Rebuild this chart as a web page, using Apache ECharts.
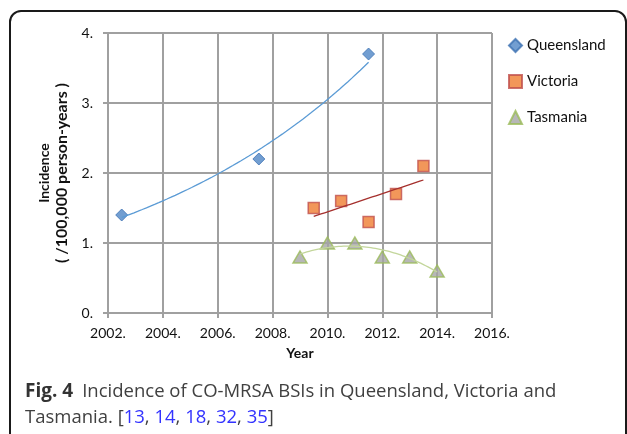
<!DOCTYPE html>
<html>
<head>
    <meta charset="utf-8">
    <title>Incidence of CO-MRSA BSIs</title>
    <script src="https://cdn.jsdelivr.net/npm/echarts@6.0.0/dist/echarts.min.js"></script>
    <style>
        html, body { margin: 0; padding: 0; background: #fff; }
        #main { width: 627px; height: 434px; }
    </style>
</head>
<body>
    <div id="main"></div>
    <script>
        // data
        const qldYears = [2002.5, 2007.5, 2011.5];
        const qldRate = [1.4, 2.2, 3.7];
        const vicYears = [2009.5, 2010.5, 2011.5, 2012.5, 2013.5];
        const vicRate = [1.5, 1.6, 1.3, 1.7, 2.1];
        const tasYears = [2009, 2010, 2011, 2012, 2013, 2014];
        const tasRate = [0.8, 1.0, 1.0, 0.8, 0.8, 0.6];

        const xTicks = [2002, 2004, 2006, 2008, 2010, 2012, 2014, 2016];
        const yTicks = [0, 1, 2, 3, 4];

        const FONT = 'Lato';

        // least squares fits, like the Excel trendlines
        function linFit(xs, ys) {
            const n = xs.length;
            const mx = xs.reduce((a, b) => a + b, 0) / n;
            const my = ys.reduce((a, b) => a + b, 0) / n;
            let sxy = 0, sxx = 0;
            for (let i = 0; i < n; i++) {
                sxy += (xs[i] - mx) * (ys[i] - my);
                sxx += (xs[i] - mx) * (xs[i] - mx);
            }
            const b = sxy / sxx;
            return x => my + b * (x - mx);
        }
        function expFit(xs, ys) {
            const f = linFit(xs, ys.map(Math.log));
            return x => Math.exp(f(x));
        }
        function quadFit(xs, ys) {
            const x0 = xs[0];
            const t = xs.map(x => x - x0);
            const s = k => t.reduce((a, v) => a + Math.pow(v, k), 0);
            const sy = k => t.reduce((a, v, i) => a + Math.pow(v, k) * ys[i], 0);
            const A = [[s(0), s(1), s(2)], [s(1), s(2), s(3)], [s(2), s(3), s(4)]];
            const B = [sy(0), sy(1), sy(2)];
            // gaussian elimination
            for (let i = 0; i < 3; i++) {
                for (let j = i + 1; j < 3; j++) {
                    const f = A[j][i] / A[i][i];
                    for (let k = i; k < 3; k++) A[j][k] -= f * A[i][k];
                    B[j] -= f * B[i];
                }
            }
            const c = [0, 0, 0];
            for (let i = 2; i >= 0; i--) {
                let v = B[i];
                for (let k = i + 1; k < 3; k++) v -= A[i][k] * c[k];
                c[i] = v / A[i][i];
            }
            return x => c[0] + c[1] * (x - x0) + c[2] * (x - x0) * (x - x0);
        }
        function sampleFit(fn, xs) {
            const a = Math.min(...xs), b = Math.max(...xs);
            const pts = [];
            for (let i = 0; i <= 60; i++) {
                const x = a + (b - a) * i / 60;
                pts.push([x, fn(x)]);
            }
            return pts;
        }

        const zip = (xs, ys) => xs.map((x, i) => [x, ys[i]]);

        const chart = echarts.init(document.getElementById('main'));

        const gridColor = '#a0a0a0';

        const option = {
            animation: false,
            textStyle: { fontFamily: FONT },
            grid: { left: 108, top: 33, width: 384, height: 280 },
            legend: {
                orient: 'vertical',
                left: 503,
                top: 33,
                itemWidth: 13,
                itemHeight: 13,
                itemGap: 21,
                data: ['Queensland', 'Victoria', 'Tasmania'],
                textStyle: { fontFamily: FONT, fontSize: 15, color: '#111' }
            },
            xAxis: {
                type: 'value',
                min: xTicks[0],
                max: xTicks[xTicks.length - 1],
                interval: 2,
                name: 'Year',
                nameLocation: 'middle',
                nameGap: 33,
                nameTextStyle: { fontFamily: FONT, fontWeight: 'bold', fontSize: 14, color: '#111' },
                axisLine: { show: true, lineStyle: { color: gridColor, width: 2 } },
                axisTick: { show: true, length: 5, lineStyle: { color: gridColor, width: 2 } },
                axisLabel: {
                    margin: 13,
                    fontFamily: FONT,
                    fontSize: 14,
                    color: '#111',
                    formatter: v => v + '.'
                },
                splitLine: { show: true, lineStyle: { color: gridColor, width: 2 } }
            },
            yAxis: {
                type: 'value',
                min: yTicks[0],
                max: yTicks[yTicks.length - 1],
                interval: 1,
                name: '{a|Incidence}\n{b|( /100,000 person-years )}',
                nameLocation: 'middle',
                nameRotate: 90,
                nameGap: 37,
                nameTextStyle: {
                    color: '#111',
                    rich: {
                        a: { fontFamily: FONT, fontWeight: 'bold', fontSize: 14, lineHeight: 18, color: '#111' },
                        b: { fontFamily: FONT, fontWeight: 'bold', fontSize: 16, lineHeight: 18, color: '#111' }
                    }
                },
                axisLine: { show: true, lineStyle: { color: gridColor, width: 2 } },
                axisTick: { show: true, length: 5, lineStyle: { color: gridColor, width: 2 } },
                axisLabel: {
                    margin: 15,
                    fontFamily: FONT,
                    fontSize: 14,
                    color: '#111',
                    formatter: v => v + '.'
                },
                splitLine: { show: true, lineStyle: { color: gridColor, width: 2 } }
            },
            series: [
                {
                    name: 'Queensland trend',
                    type: 'line',
                    data: sampleFit(expFit(qldYears, qldRate), qldYears),
                    showSymbol: false,
                    lineStyle: { color: '#5b9bd5', width: 1.3 },
                    silent: true
                },
                {
                    name: 'Victoria trend',
                    type: 'line',
                    data: sampleFit(linFit(vicYears, vicRate), vicYears),
                    showSymbol: false,
                    lineStyle: { color: '#a5302d', width: 1.3 },
                    silent: true
                },
                {
                    name: 'Tasmania trend',
                    type: 'line',
                    data: sampleFit(quadFit(tasYears, tasRate), tasYears),
                    showSymbol: false,
                    lineStyle: { color: '#c3d69b', width: 1.3 },
                    silent: true
                },
                {
                    name: 'Queensland',
                    type: 'scatter',
                    symbol: 'diamond',
                    symbolSize: 12,
                    data: zip(qldYears, qldRate),
                    itemStyle: { color: '#4f86c6', borderColor: '#3d72b3', borderWidth: 1 }
                },
                {
                    name: 'Victoria',
                    type: 'scatter',
                    symbol: 'rect',
                    symbolSize: 11,
                    data: zip(vicYears, vicRate),
                    itemStyle: { color: '#ef7d31', borderColor: '#c0504d', borderWidth: 1.5 }
                },
                {
                    name: 'Tasmania',
                    type: 'scatter',
                    symbol: 'triangle',
                    symbolSize: [14, 12],
                    data: zip(tasYears, tasRate),
                    itemStyle: { color: '#a5a5a5', borderColor: '#9bbb59', borderWidth: 1.5 }
                }
            ],
            graphic: [
                {
                    type: 'rect',
                    shape: { x: 10, y: 11, width: 616, height: 460, r: 11 },
                    style: { fill: 'none', stroke: '#1a1a1a', lineWidth: 2 },
                    silent: true
                },
                {
                    type: 'text',
                    left: 25,
                    top: 382,
                    style: {
                        text: '{b|Fig. 4}{s| }{n|Incidence of CO-MRSA BSIs in Queensland, Victoria and}\n' +
                              '{n|Tasmania. [}{l|13}{n|, }{l|14}{n|, }{l|18}{n|, }{l|32}{n|, }{l|35}{n|]}',
                        rich: {
                            b: { fontFamily: 'Open Sans', fontWeight: 'bold', fontSize: 19, lineHeight: 26, fill: '#333' },
                            s: { fontFamily: 'Open Sans', fontSize: 18.5, lineHeight: 26, width: 9 },
                            n: { fontFamily: 'Open Sans', fontSize: 18.5, lineHeight: 26, fill: '#404040' },
                            l: { fontFamily: 'Open Sans', fontSize: 18.5, lineHeight: 26, fill: '#3232ff' }
                        }
                    }
                }
            ]
        };

        chart.setOption(option);
    </script>
</body>
</html>
